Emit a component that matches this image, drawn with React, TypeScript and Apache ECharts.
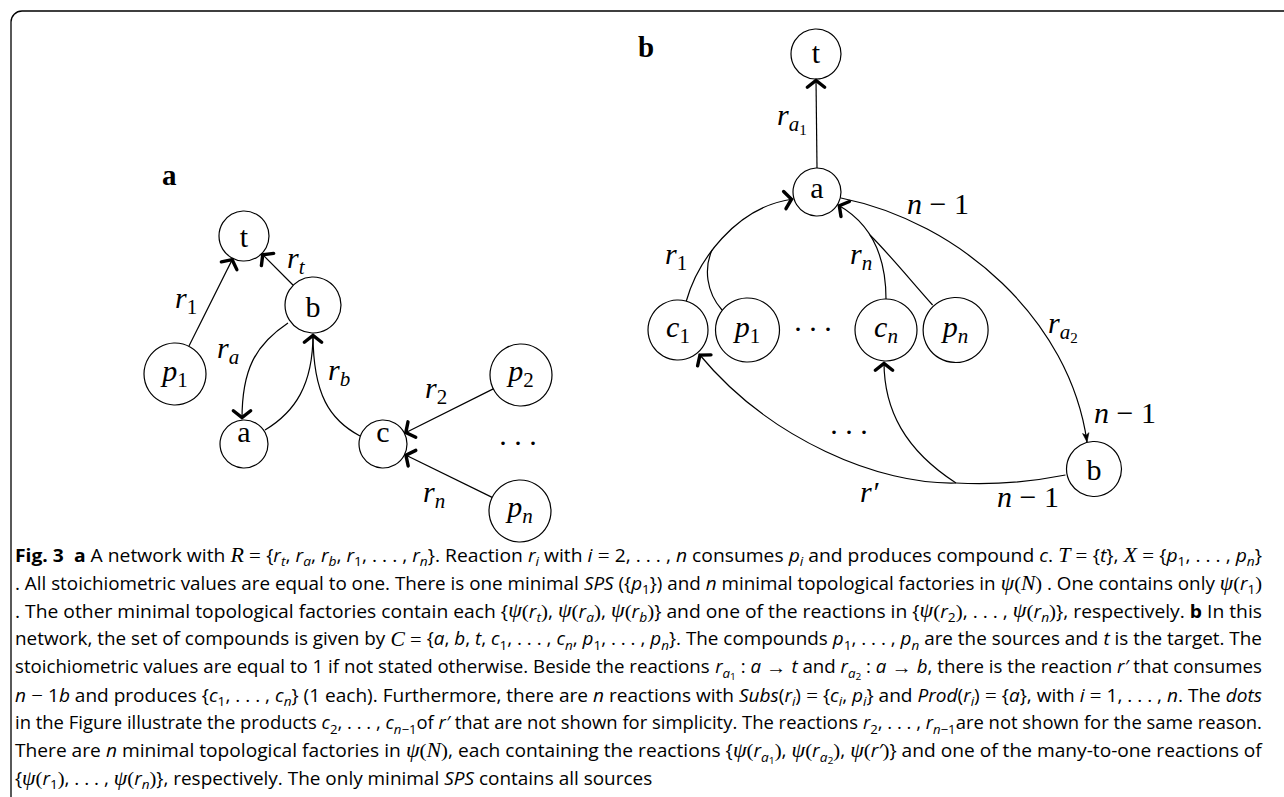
import { useEffect, useRef } from "react";
import * as echarts from "echarts";

// ---------------- data (labels / structure) ----------------
const panelTitles = ["a", "b"];

// panel a
const aNodeIds = ["t", "b", "p1", "a", "c", "p2", "pn"];
const aNodeBase = ["t", "b", "p", "a", "c", "p", "p"];
const aNodeSub = ["", "", "1", "", "", "2", "n"];
const aStraightEdges = [["p1", "t"], ["b", "t"], ["p2", "c"], ["pn", "c"]];
const aReactionSubs = ["1", "t", "a", "b", "2", "n"];

// panel b
const bNodeIds = ["t", "a", "c1", "p1", "cn", "pn", "b"];
const bNodeBase = ["t", "a", "c", "p", "c", "p", "b"];
const bNodeSub = ["", "", "1", "1", "n", "n", ""];
const bReactionLabels = [["a", "1"], ["1"], ["n"], ["a", "2"], ["′"]];
const bStoichLabels = ["n", "n", "n"];
const ellipsisText = ". . .";

// ---------------- layout (positions, sizes) ----------------
const aLayout: any = {
  t: [244, 236, 25, 247], b: [313, 305, 28, 317], p1: [175, 374, 31, 381],
  a: [244, 444, 24, 442], c: [383, 444, 24, 442], p2: [521, 375, 31, 381], pn: [520, 511, 31, 517],
};
const bLayout: any = {
  t: [816, 54, 25, 63], a: [817, 192, 24, 198], c1: [678, 330, 30, 337], p1: [747.5, 330, 32, 337],
  cn: [886, 330, 31, 337], pn: [955.6, 330, 32.5, 337], b: [1094, 469, 27.5, 480],
};
const aLabelPos = [[175, 308], [287, 268], [217, 358], [328, 380], [425, 398], [423, 502]];
const bLabelPos = [[777, 125], [665, 264], [850, 264], [1048, 333], [860, 502]];
const bStoichPos = [[907, 214], [1094, 423], [997, 507]];
const titlePos = [[162, 185], [638, 57]];
const dotsPos = [[518, 444], [813, 330], [849, 433]];

// curves: [x1,y1, cpx1,cpy1, cpx2,cpy2, x2,y2, arrow]
const aCurves = [
  [288, 323, 255, 345, 242, 370, 242, 419, 1], // b -> a
  [265, 430, 295, 412, 313, 385, 313, 334, 1], // a -> b
  [360, 436, 330, 420, 313, 395, 313, 334, 0], // c -> b
];
const bCurves = [
  [686, 302, 697, 262, 735, 207, 793, 199, 1], // r1 main
  [722, 310, 706, 292, 704, 268, 712, 250, 0], // p1 branch
  [886, 299, 886, 258, 872, 224, 838, 205, 1], // rn main
  [932.6, 305, 912, 282, 890, 255, 870, 235, 0], // pn branch
  [1065.5, 475, 1030, 482, 990, 485, 956, 483, 0], // r' from b
  [956, 483, 880, 485, 770, 440, 699, 354, 1], // r' -> c1
  [956, 483, 905, 450, 884, 410, 884, 362, 1], // r' -> cn
];
const bRa2Curve = [841, 198, 960, 222, 1070, 320, 1087, 442];

// caption
const CAPTION_LEFT = 15;
const CAPTION_WIDTH = 1247;
const CAPTION_TOP_BASELINE = 562;
const CAPTION_LINE_GAP = 27.9;

// ---------------- fonts ----------------
const SERIF = '"Liberation Serif", "DejaVu Serif", serif';
const SANS = '"Open Sans", "Noto Sans", sans-serif';
const F: any = {
  r: { family: SANS, size: 17.5 },
  b: { family: SANS, size: 17.5, weight: "bold" },
  i: { family: SANS, size: 17.5, style: "italic" },
  si: { family: SANS, size: 12.5, style: "italic", dy: 4 },
  sr: { family: SANS, size: 12.5, dy: 4 },
  ssr: { family: SANS, size: 9.5, dy: 6.5 },
  gi: { family: SERIF, size: 20, style: "italic" },
  gr: { family: SERIF, size: 19 },
  mi: { family: SERIF, size: 30, style: "italic" },
  mr: { family: SERIF, size: 30 },
  msi: { family: SERIF, size: 21, style: "italic", dy: 6 },
  msr: { family: SERIF, size: 21, dy: 6 },
  mssr: { family: SERIF, size: 15, dy: 10 },
  title: { family: SERIF, size: 29, weight: "bold" },
};

const r = (t: string) => ({ t, f: "r" });
const bo = (t: string) => ({ t, f: "b" });
const it = (t: string) => ({ t, f: "i" });
const m = (t: string) => ({ t, f: "i" });
const sub = (t: string) => ({ t, f: /^[0-9−]+$/.test(t) ? "sr" : "si" });
const ss = (t: string) => ({ t, f: "ssr" });
const g = (t: string) => ({ t, f: "gi" });
const gr = (t: string) => ({ t, f: "gr" });
const psi = (s: string) => [g("ψ"), gr("("), m("r"), sub(s), gr(")")];
const DOTS = ", . . . , ";

const captionLines: any[] = [
  [bo("Fig. 3"), r("  "), bo("a"), r(" A network with "), g("R"), gr(" = "), r("{"), m("r"), sub("t"), r(", "), m("r"), sub("a"), r(", "), m("r"), sub("b"), r(", "), m("r"), sub("1"), r(DOTS), m("r"), sub("n"), r("}. Reaction "), m("r"), sub("i"), r(" with "), m("i"), gr(" = "), r("2, . . . , "), m("n"), r(" consumes "), m("p"), sub("i"), r(" and produces compound "), m("c"), r(". "), g("T"), gr(" = "), r("{"), m("t"), r("}, "), g("X"), gr(" = "), r("{"), m("p"), sub("1"), r(DOTS), m("p"), sub("n"), r("}")],
  [r(". All stoichiometric values are equal to one. There is one minimal "), it("SPS"), r(" ({"), m("p"), sub("1"), r("}) and "), m("n"), r(" minimal topological factories in "), g("ψ"), gr("("), g("N"), gr(")"), r(" . One contains only "), ...psi("1")],
  [r(". The other minimal topological factories contain each {"), ...psi("t"), r(", "), ...psi("a"), r(", "), ...psi("b"), r("} and one of the reactions in {"), ...psi("2"), r(DOTS), ...psi("n"), r("}, respectively. "), bo("b"), r(" In this")],
  [r("network, the set of compounds is given by "), g("C"), gr(" = "), r("{"), m("a"), r(", "), m("b"), r(", "), m("t"), r(", "), m("c"), sub("1"), r(DOTS), m("c"), sub("n"), r(", "), m("p"), sub("1"), r(DOTS), m("p"), sub("n"), r("}. The compounds "), m("p"), sub("1"), r(DOTS), m("p"), sub("n"), r(" are the sources and "), m("t"), r(" is the target. The")],
  [r("stoichiometric values are equal to 1 if not stated otherwise. Beside the reactions "), m("r"), sub("a"), ss("1"), r(" : "), m("a"), gr(" → "), m("t"), r(" and "), m("r"), sub("a"), ss("2"), r(" : "), m("a"), gr(" → "), m("b"), r(", there is the reaction "), m("r′"), r(" that consumes")],
  [m("n"), gr(" − "), r("1"), m("b"), r(" and produces {"), m("c"), sub("1"), r(DOTS), m("c"), sub("n"), r("} (1 each). Furthermore, there are "), m("n"), r(" reactions with "), it("Subs"), r("("), m("r"), sub("i"), r(")"), gr(" = "), r("{"), m("c"), sub("i"), r(", "), m("p"), sub("i"), r("} and "), it("Prod"), r("("), m("r"), sub("i"), r(")"), gr(" = "), r("{"), m("a"), r("}, with "), m("i"), gr(" = "), r("1, . . . , "), m("n"), r(". The "), it("dots")],
  [r("in the Figure illustrate the products "), m("c"), sub("2"), r(DOTS), m("c"), sub("n"), sub("−1"), r("of "), m("r′"), r(" that are not shown for simplicity. The reactions "), m("r"), sub("2"), r(DOTS), m("r"), sub("n"), sub("−1"), r("are not shown for the same reason.")],
  [r("There are "), m("n"), r(" minimal topological factories in "), g("ψ"), gr("("), g("N"), gr(")"), r(", each containing the reactions {"), g("ψ"), gr("("), m("r"), sub("a"), ss("1"), gr(")"), r(", "), g("ψ"), gr("("), m("r"), sub("a"), ss("2"), gr(")"), r(", "), g("ψ"), gr("("), m("r′"), gr(")"), r("} and one of the many-to-one reactions of")],
  [r("{"), ...psi("1"), r(DOTS), ...psi("n"), r("}, respectively. The only minimal "), it("SPS"), r(" contains all sources")],
];

// ---------------- helpers ----------------
const cvs = typeof document !== "undefined" ? document.createElement("canvas") : null;
const ctx: any = cvs ? cvs.getContext("2d") : null;
function cssFont(f: any) {
  return `${f.style || "normal"} ${f.weight || "normal"} ${f.size}px ${f.family}`;
}
function measure(t: string, f: any) {
  if (!ctx) return t.length * f.size * 0.5;
  ctx.font = cssFont(f);
  return ctx.measureText(t).width;
}
function centralOffset(f: any) {
  if (!ctx) return 0.34 * f.size;
  ctx.font = cssFont(f);
  const mt = ctx.measureText("x");
  const a = mt.fontBoundingBoxAscent, d = mt.fontBoundingBoxDescent;
  if (a == null || d == null || !isFinite(a)) return 0.34 * f.size;
  return (a - d) / 2;
}
function txt(x: number, baseline: number, t: string, f: any) {
  return {
    type: "text", x, y: baseline + (f.dy || 0) - centralOffset(f), z: 30, silent: true,
    style: {
      text: t, fontFamily: f.family, fontSize: f.size, fontStyle: f.style || "normal",
      fontWeight: f.weight || "normal", fill: "#000", align: "left", verticalAlign: "middle",
      textAlign: "left", textVerticalAlign: "middle",
    },
  };
}
function layoutRuns(x0: number, baseline: number, runs: any[], align = "left") {
  const widths = runs.map((q) => measure(q.t, F[q.f]));
  const total = widths.reduce((s, w) => s + w, 0);
  let x = align === "center" ? x0 - total / 2 : x0;
  const els: any[] = [];
  runs.forEach((q, i) => {
    els.push(txt(x, baseline, q.t, F[q.f]));
    x += widths[i];
  });
  return { els, total };
}
const STROKE = "#000";
function chevron(tip: number[], dir: number[], len = 11, angDeg = 52, lw = 3.4) {
  const l = Math.hypot(dir[0], dir[1]) || 1;
  const dx = dir[0] / l, dy = dir[1] / l;
  const bx = -dx, by = -dy;
  const a = (angDeg * Math.PI) / 180, c = Math.cos(a), s = Math.sin(a);
  const tx = tip[0] - dx * 1.5, ty = tip[1] - dy * 1.5;
  const p1 = [tx + len * (bx * c - by * s), ty + len * (bx * s + by * c)];
  const p2 = [tx + len * (bx * c + by * s), ty + len * (-bx * s + by * c)];
  return {
    type: "polyline", z: 25, silent: true, shape: { points: [p1, [tx, ty], p2] },
    style: { stroke: STROKE, lineWidth: lw, fill: null, lineJoin: "miter", lineCap: "round" },
  };
}
function smallArrow(tip: number[], dir: number[]) {
  const l = Math.hypot(dir[0], dir[1]) || 1;
  const dx = dir[0] / l, dy = dir[1] / l;
  const px = -dy, py = dx;
  const L = 9, Wd = 3.2;
  return {
    type: "polygon", z: 25, silent: true,
    shape: { points: [[tip[0], tip[1]], [tip[0] - dx * L + px * Wd, tip[1] - dy * L + py * Wd], [tip[0] - dx * L * 0.75, tip[1] - dy * L * 0.75], [tip[0] - dx * L - px * Wd, tip[1] - dy * L - py * Wd]] },
    style: { fill: STROKE, stroke: STROKE, lineWidth: 0.6 },
  };
}
function curveEl(c: number[]) {
  return {
    type: "bezierCurve", z: 5, silent: true,
    shape: { x1: c[0], y1: c[1], cpx1: c[2], cpy1: c[3], cpx2: c[4], cpy2: c[5], x2: c[6], y2: c[7] },
    style: { stroke: STROKE, lineWidth: 1.2, fill: null },
  };
}
function nodeEls(lay: any, ids: string[], bases: string[], subs: string[]) {
  const out: any[] = [];
  ids.forEach((id, i) => {
    const [cx, cy, rad, base] = lay[id];
    out.push({ type: "circle", z: 10, silent: true, shape: { cx, cy, r: rad }, style: { fill: "#fff", stroke: STROKE, lineWidth: 1.2 } });
    const runs = subs[i]
      ? [{ t: bases[i], f: "mi" }, { t: subs[i], f: /^[0-9]$/.test(subs[i]) ? "msr" : "msi" }]
      : [{ t: bases[i], f: "mr" }];
    out.push(...layoutRuns(cx, base, runs, "center").els);
  });
  return out;
}

function buildElements() {
  const els: any[] = [];
  els.push({ type: "rect", z: 1, silent: true, shape: { x: 11, y: 11, width: 1300, height: 820, r: 11 }, style: { fill: "#fff", stroke: STROKE, lineWidth: 1.3 } });
  panelTitles.forEach((t, i) => els.push(...layoutRuns(titlePos[i][0], titlePos[i][1], [{ t, f: "title" }]).els));

  // ---- panel a ----
  aStraightEdges.forEach(([from, to]) => {
    const [x1, y1, r1] = aLayout[from];
    const [x2, y2, r2] = aLayout[to];
    const l = Math.hypot(x2 - x1, y2 - y1);
    const ux = (x2 - x1) / l, uy = (y2 - y1) / l;
    const s = [x1 + ux * r1, y1 + uy * r1], e = [x2 - ux * r2, y2 - uy * r2];
    els.push({ type: "line", z: 5, silent: true, shape: { x1: s[0], y1: s[1], x2: e[0], y2: e[1] }, style: { stroke: STROKE, lineWidth: 1.2 } });
    els.push(chevron(e, [ux, uy]));
  });
  aCurves.forEach((c) => {
    els.push(curveEl(c));
    if (c[8]) els.push(chevron([c[6], c[7]], [c[6] - c[4], c[7] - c[5]]));
  });
  els.push(...nodeEls(aLayout, aNodeIds, aNodeBase, aNodeSub));
  aReactionSubs.forEach((s, i) => {
    const runs = [{ t: "r", f: "mi" }, { t: s, f: /^[0-9]$/.test(s) ? "msr" : "msi" }];
    els.push(...layoutRuns(aLabelPos[i][0], aLabelPos[i][1], runs).els);
  });
  els.push(...layoutRuns(dotsPos[0][0], dotsPos[0][1] + 1, [{ t: ellipsisText, f: "mr" }], "center").els);

  // ---- panel b ----
  {
    const [tx, ty, tr] = bLayout.t;
    const [ax, ay, ar] = bLayout.a;
    els.push({ type: "line", z: 5, silent: true, shape: { x1: ax, y1: ay - ar, x2: tx, y2: ty + tr }, style: { stroke: STROKE, lineWidth: 1.2 } });
    els.push(chevron([tx, ty + tr], [0, -1]));
  }
  bCurves.forEach((c) => {
    els.push(curveEl(c));
    if (c[8]) els.push(chevron([c[6], c[7]], [c[6] - c[4], c[7] - c[5]]));
  });
  els.push(curveEl(bRa2Curve));
  els.push(smallArrow([bRa2Curve[6], bRa2Curve[7]], [bRa2Curve[6] - bRa2Curve[4], bRa2Curve[7] - bRa2Curve[5]]));
  els.push(...nodeEls(bLayout, bNodeIds, bNodeBase, bNodeSub));
  bReactionLabels.forEach((parts, i) => {
    let runs: any[];
    if (parts[0] === "′") runs = [{ t: "r′", f: "mi" }];
    else if (parts.length === 2) runs = [{ t: "r", f: "mi" }, { t: parts[0], f: "msi" }, { t: parts[1], f: "mssr" }];
    else runs = [{ t: "r", f: "mi" }, { t: parts[0], f: /^[0-9]$/.test(parts[0]) ? "msr" : "msi" }];
    els.push(...layoutRuns(bLabelPos[i][0], bLabelPos[i][1], runs).els);
  });
  bStoichLabels.forEach((n, i) => {
    els.push(...layoutRuns(bStoichPos[i][0], bStoichPos[i][1], [{ t: n, f: "mi" }, { t: " − 1", f: "mr" }]).els);
  });
  els.push(...layoutRuns(dotsPos[1][0], dotsPos[1][1] + 1, [{ t: ellipsisText, f: "mr" }], "center").els);
  els.push(...layoutRuns(dotsPos[2][0], dotsPos[2][1] + 1, [{ t: ellipsisText, f: "mr" }], "center").els);

  // ---- caption ----
  const laid = captionLines.map((line) => layoutRuns(0, 0, line));
  const scales = laid.map((l) => CAPTION_WIDTH / l.total);
  const avg = scales.slice(0, -1).reduce((s, v) => s + v, 0) / (scales.length - 1);
  laid.forEach((l, i) => {
    const s = i < laid.length - 1 ? scales[i] : avg;
    els.push({ type: "group", x: CAPTION_LEFT, y: CAPTION_TOP_BASELINE + i * CAPTION_LINE_GAP, scaleX: s, children: l.els });
  });
  return els;
}

export default function App() {
  const ref = useRef<HTMLDivElement>(null);
  useEffect(() => {
    const chart = echarts.init(ref.current!, null, { renderer: "svg", width: 1284, height: 797 });
    chart.setOption({ animation: false, graphic: { elements: buildElements() } });
    return () => chart.dispose();
  }, []);
  return <div ref={ref} style={{ position: "fixed", left: 0, top: 0, width: 1284, height: 797, background: "#fff" }} />;
}
